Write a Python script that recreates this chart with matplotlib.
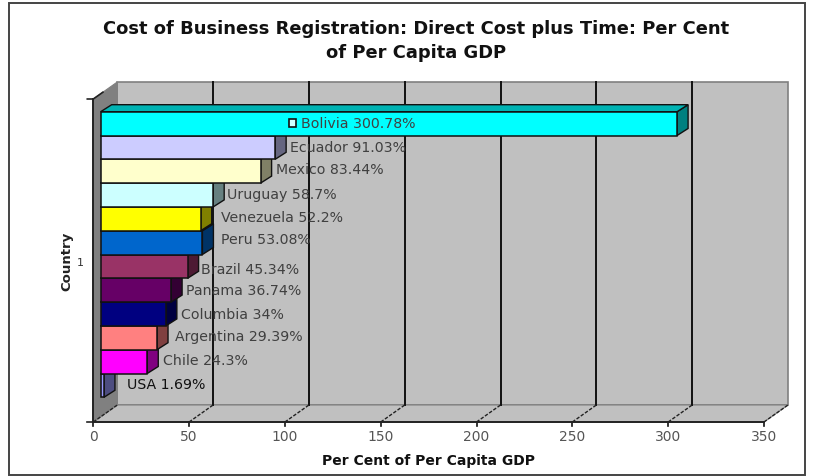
import matplotlib
matplotlib.use('Agg')
import matplotlib.pyplot as plt
from matplotlib.patches import Rectangle

plt.rcParams['font.family'] = ['DejaVu Sans']

# the data
countries = ['Bolivia', 'Ecuador', 'Mexico', 'Uruguay', 'Venezuela', 'Peru',
             'Brazil', 'Panama', 'Columbia', 'Argentina', 'Chile', 'USA']
values = [300.78, 91.03, 83.44, 58.7, 52.2, 53.08, 45.34, 36.74, 34, 29.39, 24.3, 1.69]
value_labels = ['300.78%', '91.03%', '83.44%', '58.7%', '52.2%', '53.08%',
                '45.34%', '36.74%', '34%', '29.39%', '24.3%', '1.69%']
x_ticks = [0, 50, 100, 150, 200, 250, 300, 350]

front_colors = ['#00FFFF', '#CCCCFF', '#FFFFCC', '#CCFFFF', '#FFFF00', '#0066CC',
                '#993366', '#660066', '#000080', '#FF8080', '#FF00FF', '#9999FF']
side_colors = ['#008080', '#666680', '#808066', '#668080', '#808000', '#003366',
               '#4D1A33', '#330033', '#000040', '#804040', '#800080', '#4D4D80']
top_colors = ['#00B3B3', '#9090B3', '#B3B38F', '#8FB3B3', '#B3B300', '#004C99',
              '#6B2447', '#470047', '#00005A', '#B35A5A', '#B300B3', '#6B6BB3']

# layout in pixels of the reference
W, H = 815, 477
x0_px, x350_px = 93.3, 764.0
top_px, bottom_px = 100.0, 423.0
bar_top_px, bar_pitch = 112.7, 23.8
label_x_px = [301, 290, 276, 227, 221, 221, 201, 186, 181, 175, 163, 127]
label_y_px = [124, 148, 170, 195, 218, 240, 270, 291, 315, 337, 361, 385]

fig = plt.figure(figsize=(W / 100, H / 100), dpi=100)
ax = fig.add_axes([x0_px / W, 1 - bottom_px / H, (x350_px - x0_px) / W, (bottom_px - top_px) / H])
ax.set_xlim(0, 350)
# y position i is the centre of bar i
ax.set_ylim((bottom_px - bar_top_px) / bar_pitch - 0.5, (top_px - bar_top_px) / bar_pitch - 0.5)
ax.axis('off')

ux = (x350_px - x0_px) / 350
wall_dx = 24.0 / ux   # depth of the 3d box, in data units
wall_dy = 17.0 / bar_pitch
bar_left = 7.4 / ux   # bars sit in the middle of the depth
bar_dx = 11.0 / ux
bar_dy = 7.0 / bar_pitch
y_low, y_high = ax.get_ylim()

# back wall, side wall, floor
ax.fill([wall_dx, 350 + wall_dx, 350 + wall_dx, wall_dx],
        [y_low - wall_dy, y_low - wall_dy, y_high - wall_dy, y_high - wall_dy],
        facecolor='#C0C0C0', edgecolor='#808080', lw=1.2, clip_on=False, zorder=1)
ax.fill([0, wall_dx, 350 + wall_dx, 350],
        [y_low, y_low - wall_dy, y_low - wall_dy, y_low],
        facecolor='#C0C0C0', edgecolor='#808080', lw=0.8, clip_on=False, zorder=1)
ax.fill([0, wall_dx, wall_dx, 0],
        [y_low, y_low - wall_dy, y_high - wall_dy, y_high],
        facecolor='#808080', edgecolor='#808080', lw=0.8, clip_on=False, zorder=1)

# gridlines and the oblique dashed ticks on the floor
for t in x_ticks[1:-1]:
    ax.plot([t + wall_dx, t + wall_dx], [y_low - wall_dy, y_high - wall_dy],
            color='#111111', lw=1.4, clip_on=False, zorder=2)
for t in x_ticks:
    ax.plot([t, t + wall_dx], [y_low, y_low - wall_dy], color='#222222', lw=1,
            ls=(0, (2.5, 1.2)), clip_on=False, zorder=2)
    ax.plot([t, t], [y_low, y_low + 4 / bar_pitch], color='#111111', lw=1.2, clip_on=False, zorder=6)
    ax.text(t, y_low + 14 / bar_pitch, str(t), ha='center', va='center', fontsize=10,
            color='#555555', clip_on=False)

# axis lines
ax.plot([0, 350], [y_low, y_low], color='#222222', lw=1.4, clip_on=False, zorder=6)
ax.plot([0, 0], [y_low, y_high], color='#222222', lw=1.4, clip_on=False, zorder=6)
ax.plot([-6 / ux, 0], [y_low, y_low], color='#222222', lw=1.2, clip_on=False, zorder=6)
ax.plot([-6 / ux, 0, wall_dx * 0.4], [y_high, y_high, y_high - wall_dy * 0.4], color='#222222',
        lw=1.2, clip_on=False, zorder=6)

# bars, bottom one first so that each bar hides the top face of the one under it
for i in reversed(range(len(values))):
    v = values[i]
    z = 3 + (len(values) - i) * 0.1
    right = bar_left + v
    ax.fill([right, right + bar_dx, right + bar_dx, right],
            [i - 0.5, i - 0.5 - bar_dy, i + 0.5 - bar_dy, i + 0.5],
            facecolor=side_colors[i], edgecolor='#111111', lw=1, clip_on=False, zorder=z)
    ax.fill([bar_left, bar_left + bar_dx, right + bar_dx, right],
            [i - 0.5, i - 0.5 - bar_dy, i - 0.5 - bar_dy, i - 0.5],
            facecolor=top_colors[i], edgecolor='#111111', lw=1, clip_on=False, zorder=z)
    ax.barh(i, v, left=bar_left, height=1.0, color=front_colors[i], edgecolor='#111111',
            linewidth=1.1, clip_on=False, zorder=z)

# data labels
for i, c in enumerate(countries):
    ax.text((label_x_px[i] - x0_px) / ux, (label_y_px[i] - bar_top_px) / bar_pitch - 0.5,
            c + ' ' + value_labels[i], ha='left', va='center', fontsize=10.2,
            color='#404040' if i < 11 else '#111111', clip_on=False, zorder=8)
ax.add_patch(Rectangle(((288.5 - x0_px) / ux, (120 - bar_top_px) / bar_pitch - 0.5), 7 / ux, 8 / bar_pitch,
                       facecolor='#CCFFFF', edgecolor='#111111', lw=1.2, clip_on=False, zorder=8))

# titles
fig.text(416 / W, 1 - 29 / H, 'Cost of Business Registration: Direct Cost plus Time: Per Cent',
         ha='center', va='center', fontsize=12.9, fontweight='bold', color='#111111')
fig.text(416 / W, 1 - 53 / H, 'of Per Capita GDP', ha='center', va='center', fontsize=12.9,
         fontweight='bold', color='#111111')
fig.text(429 / W, 1 - 461 / H, 'Per Cent of Per Capita GDP', ha='center', va='center', fontsize=10,
         fontweight='bold', color='#111111')
fig.text(67 / W, 1 - 261 / H, 'Country', rotation=90, ha='center', va='center', fontsize=9.5,
         fontweight='bold', color='#222222')
fig.text(80 / W, 1 - 263 / H, '1', ha='center', va='center', fontsize=8, color='#333333')

# outer frame of the chart
fig.add_artist(Rectangle((9 / W, 1 - 476 / H), 796 / W, 472 / H, transform=fig.transFigure,
                         fill=False, edgecolor='#444444', lw=1.4))

fig.savefig('out.png', dpi=100)
